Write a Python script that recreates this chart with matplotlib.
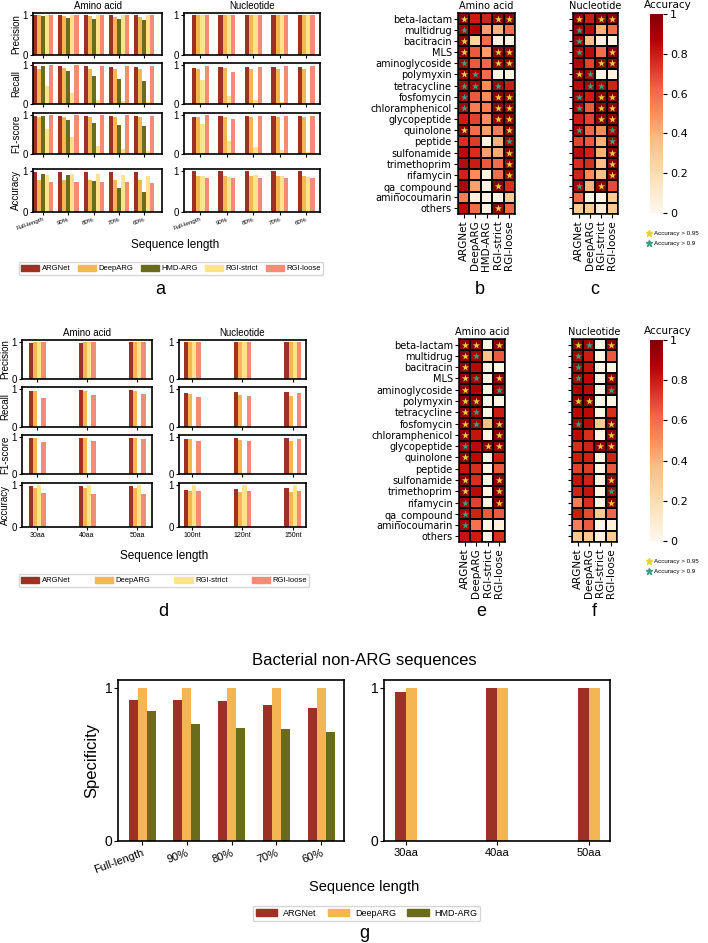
import numpy as np
import matplotlib.pyplot as plt
from matplotlib.patches import Patch
from matplotlib.lines import Line2D
from matplotlib.colors import Normalize
from matplotlib.cm import ScalarMappable

plt.rcParams['font.family'] = ['Liberation Sans', 'DejaVu Sans']

W, H = 708, 943

tools5 = ["ARGNet", "DeepARG", "HMD-ARG", "RGI-strict", "RGI-loose"]
tools4 = ["ARGNet", "DeepARG", "RGI-strict", "RGI-loose"]
tools3 = ["ARGNet", "DeepARG", "HMD-ARG"]
colors = {"ARGNet": "#9c3226", "DeepARG": "#f3b652", "HMD-ARG": "#6b6b1c",
          "RGI-strict": "#fde48c", "RGI-loose": "#f28c76"}
metrics = ["Precision", "Recall", "F1-score", "Accuracy"]

# panel a: full-length / truncated ARGs (rows follow tools5 / tools4)
a_groups = ["Full-length", "90%", "80%", "70%", "60%"]
a_aa_precision = [[0.99, 0.99, 0.99, 0.99, 0.99], [1, 0.98, 0.97, 0.96, 0.96],
                  [0.97, 0.93, 0.91, 0.89, 0.87], [1, 1, 1, 1, 1], [1, 1, 1, 1, 1]]
a_aa_recall = [[0.97, 0.97, 0.97, 0.96, 0.96], [0.89, 0.91, 0.90, 0.90, 0.90],
               [0.97, 0.84, 0.71, 0.64, 0.59], [0.47, 0.27, 0.11, 0.07, 0.04],
               [0.99, 0.99, 0.98, 0.98, 0.97]]
a_aa_f1 = [[0.98, 0.98, 0.98, 0.98, 0.97], [0.94, 0.95, 0.95, 0.95, 0.95],
           [0.97, 0.88, 0.80, 0.74, 0.71], [0.64, 0.43, 0.21, 0.13, 0.08],
           [0.99, 0.99, 0.99, 0.99, 0.98]]
a_aa_accuracy = [[0.98, 0.98, 0.98, 0.98, 0.98], [0.77, 0.77, 0.78, 0.77, 0.77],
                 [0.94, 0.91, 0.75, 0.58, 0.48], [0.91, 0.94, 0.93, 0.90, 0.88],
                 [0.73, 0.73, 0.73, 0.73, 0.72]]
a_nt_precision = [[0.99] * 5, [1] * 5, [1] * 5, [1] * 5]
a_nt_recall = [[0.92, 0.96, 0.95, 0.95, 0.94], [0.90, 0.91, 0.89, 0.90, 0.89],
               [0.62, 0.20, 0.10, 0.05, 0.03], [0.98, 0.83, 0.96, 0.97, 0.97]]
a_nt_f1 = [[0.95, 0.97, 0.97, 0.97, 0.97], [0.95, 0.95, 0.94, 0.94, 0.94],
           [0.76, 0.33, 0.19, 0.10, 0.06], [0.99, 0.90, 0.97, 0.98, 0.98]]
a_nt_accuracy = [[0.99] * 5, [0.87, 0.87, 0.88, 0.88, 0.87],
                 [0.89, 0.86, 0.90, 0.87, 0.85], [0.84, 0.82, 0.84, 0.84, 0.84]]

# panel d: short reads
d_aa_groups = ["30aa", "40aa", "50aa"]
d_nt_groups = ["100nt", "120nt", "150nt"]
d_aa_precision = [[0.98, 0.98, 0.99], [1, 1, 1], [1, 1, 1], [1, 1, 1]]
d_aa_recall = [[0.95, 0.97, 0.97], [0.95, 0.94, 0.94], [0, 0, 0], [0.77, 0.83, 0.87]]
d_aa_f1 = [[0.96, 0.98, 0.98], [0.97, 0.97, 0.97], [0, 0, 0], [0.87, 0.90, 0.93]]
d_aa_accuracy = [[0.98, 0.98, 0.98], [0.92, 0.92, 0.92], [1, 1, 1], [0.80, 0.79, 0.78]]
d_nt_precision = [[0.99, 0.99, 0.99], [1, 1, 1], [1, 1, 1], [1, 1, 1]]
d_nt_recall = [[0.90, 0.92, 0.93], [0.86, 0.83, 0.82], [0, 0, 0], [0.79, 0.82, 0.88]]
d_nt_f1 = [[0.95, 0.96, 0.96], [0.93, 0.91, 0.90], [0, 0, 0], [0.88, 0.90, 0.93]]
d_nt_accuracy = [[0.88, 0.90, 0.94], [0.86, 0.84, 0.83], [1, 1, 1], [0.85, 0.85, 0.85]]

# panel g: specificity on non-ARG sequences
g_left_groups = ["Full-length", "90%", "80%", "70%", "60%"]
g_left = [[0.92, 0.92, 0.91, 0.89, 0.87], [1, 1, 1, 1, 1], [0.85, 0.76, 0.74, 0.73, 0.71]]
g_right_groups = ["30aa", "40aa", "50aa"]
g_right = [[0.97, 0.995, 1.0], [1, 1, 1]]

# heatmaps (per-class accuracy)
classes = ["beta-lactam", "multidrug", "bacitracin", "MLS", "aminoglycoside", "polymyxin",
           "tetracycline", "fosfomycin", "chloramphenicol", "glycopeptide", "quinolone",
           "peptide", "sulfonamide", "trimethoprim", "rifamycin", "qa_compound",
           "aminocoumarin", "others"]
b_vals = [[0.97, 0.80, 0.78, 0.97, 0.97], [0.92, 0.87, 0.45, 0.40, 0.60],
          [0.97, 0.25, 0.60, 0.05, 0.02], [0.97, 0.65, 0.45, 0.97, 0.97],
          [0.92, 0.65, 0.62, 0.97, 0.97], [0.97, 0.92, 0.60, 0.03, 0.03],
          [0.92, 0.92, 0.50, 0.92, 0.80], [0.92, 0.65, 0.50, 0.97, 0.97],
          [0.92, 0.55, 0.55, 0.97, 0.97], [0.80, 0.70, 0.50, 0.97, 0.97],
          [0.97, 0.60, 0.45, 0.55, 0.97], [0.75, 0.72, 0.02, 0.40, 0.92],
          [0.85, 0.75, 0.45, 0.42, 0.97], [0.85, 0.80, 0.65, 0.60, 0.97],
          [0.78, 0.50, 0.03, 0.60, 0.97], [0.88, 0.45, 0.03, 0.97, 0.75],
          [0.55, 0.05, 0.03, 0.05, 0.30], [0.85, 0.60, 0.03, 0.97, 0.62]]
c_vals = [[0.97, 0.80, 0.97, 0.97], [0.92, 0.85, 0.40, 0.60],
          [0.92, 0.35, 0.03, 0.02], [0.92, 0.85, 0.60, 0.97],
          [0.88, 0.70, 0.97, 0.97], [0.97, 0.92, 0.03, 0.03],
          [0.85, 0.91, 0.92, 0.78], [0.92, 0.80, 0.97, 0.97],
          [0.92, 0.65, 0.97, 0.97], [0.80, 0.70, 0.97, 0.97],
          [0.92, 0.62, 0.50, 0.92], [0.70, 0.65, 0.40, 0.92],
          [0.85, 0.78, 0.40, 0.97], [0.75, 0.75, 0.35, 0.97],
          [0.78, 0.50, 0.35, 0.97], [0.92, 0.40, 0.97, 0.68],
          [0.62, 0.03, 0.02, 0.30], [0.30, 0.30, 0.10, 0.30]]
e_vals = [[0.97, 0.97, 0.02, 0.97], [0.97, 0.92, 0.35, 0.65],
          [0.97, 0.85, 0.02, 0.02], [0.97, 0.92, 0.02, 0.97],
          [0.97, 0.88, 0.02, 0.92], [0.97, 0.97, 0.02, 0.02],
          [0.97, 0.92, 0.02, 0.80], [0.97, 0.92, 0.35, 0.97],
          [0.97, 0.82, 0.02, 0.97], [0.92, 0.85, 0.97, 0.97],
          [0.97, 0.85, 0.02, 0.80], [0.82, 0.75, 0.02, 0.65],
          [0.97, 0.75, 0.02, 0.97], [0.97, 0.85, 0.02, 0.97],
          [0.92, 0.70, 0.02, 0.97], [0.92, 0.78, 0.65, 0.65],
          [0.92, 0.58, 0.02, 0.05], [0.82, 0.80, 0.02, 0.75]]
f_vals = [[0.97, 0.92, 0.02, 0.97], [0.92, 0.80, 0.02, 0.65],
          [0.92, 0.82, 0.02, 0.02], [0.92, 0.85, 0.02, 0.97],
          [0.88, 0.85, 0.02, 0.92], [0.97, 0.97, 0.02, 0.02],
          [0.85, 0.85, 0.02, 0.75], [0.92, 0.85, 0.30, 0.97],
          [0.85, 0.75, 0.02, 0.97], [0.75, 0.78, 0.97, 0.97],
          [0.80, 0.78, 0.02, 0.78], [0.70, 0.72, 0.02, 0.65],
          [0.82, 0.78, 0.02, 0.97], [0.78, 0.82, 0.02, 0.92],
          [0.55, 0.75, 0.02, 0.97], [0.80, 0.68, 0.30, 0.62],
          [0.55, 0.65, 0.02, 0.05], [0.30, 0.30, 0.05, 0.30]]


def rect(l, t, r, b):
    return [l / W, 1 - b / H, (r - l) / W, (b - t) / H]


def fx(x):
    return x / W


def fy(y):
    return 1 - y / H


fig = plt.figure(figsize=(W / 100, H / 100), dpi=100)


def bars(ax, vals, tools, width, xlim, ylim=1.05):
    n = len(tools)
    x = np.arange(len(vals[0]))
    for i, t in enumerate(tools):
        ax.bar(x + (i - (n - 1) / 2) * width, vals[i], width, color=colors[t], label=t)
    ax.set_xlim(*xlim)
    ax.set_ylim(0, ylim)
    ax.set_yticks([0, 1])
    ax.set_yticklabels(["0", "1"])
    ax.set_xticks(x)
    for s in ax.spines.values():
        s.set_linewidth(1.2)
    return x


def bar_grid(cols, rows, data, tools_list, width_list, xlims, groups_list, titles,
             tick_kw, tick_fs):
    for c, (l, r) in enumerate(cols):
        for k, (t, b) in enumerate(rows):
            ax = fig.add_axes(rect(l, t, r, b))
            bars(ax, data[c][k], tools_list[c], width_list[c], xlims[c])
            ax.tick_params(labelsize=7, length=2.5, width=0.8, pad=1)
            if k == 0:
                ax.set_title(titles[c], fontsize=7, pad=3)
            if c == 0:
                ax.set_ylabel(metrics[k], fontsize=7, labelpad=1)
            if k == len(rows) - 1:
                ax.set_xticklabels(groups_list[c], fontsize=tick_fs, **tick_kw)
            else:
                ax.set_xticklabels([])


# ---- panel a ----
bar_grid([(33, 162), (184, 320)], [(13, 55), (63, 104), (113, 154), (169, 212)],
         [[a_aa_precision, a_aa_recall, a_aa_f1, a_aa_accuracy],
          [a_nt_precision, a_nt_recall, a_nt_f1, a_nt_accuracy]],
         [tools5, tools4], [0.16, 0.16], [(-0.4, 4.7), (-0.62, 4.52)],
         [a_groups, a_groups], ["Amino acid", "Nucleotide"],
         dict(rotation=20, ha="right", rotation_mode="anchor"), 4.5)
fig.text(fx(175), fy(245), "Sequence length", fontsize=8.5, ha="center", va="center")
fig.legend([Patch(color=colors[t]) for t in tools5], tools5, loc="center",
           bbox_to_anchor=(fx(15), fy(275), fx(312), 13 / H), mode="expand", ncol=5,
           fontsize=5.5, handlelength=2.4, handleheight=0.9, borderpad=0.3,
           handletextpad=0.3, columnspacing=0.6)
fig.text(fx(160), fy(290), "a", fontsize=13, ha="center", va="center")

# ---- panel d ----
bar_grid([(22, 152), (179, 306)], [(340, 379), (387, 427), (435, 474), (483, 527)],
         [[d_aa_precision, d_aa_recall, d_aa_f1, d_aa_accuracy],
          [d_nt_precision, d_nt_recall, d_nt_f1, d_nt_accuracy]],
         [tools4, tools4], [0.085, 0.085], [(-0.3, 2.3), (-0.26, 2.26)],
         [d_aa_groups, d_nt_groups], ["Amino acid", "Nucleotide"], dict(), 5)
fig.text(fx(164), fy(556), "Sequence length", fontsize=8.5, ha="center", va="center")
fig.legend([Patch(color=colors[t]) for t in tools4], tools4, loc="center",
           bbox_to_anchor=(fx(15), fy(587), fx(298), 13 / H), mode="expand", ncol=4,
           fontsize=5.5, handlelength=2.4, handleheight=0.9, borderpad=0.3,
           handletextpad=0.3, columnspacing=0.6)
fig.text(fx(163), fy(612), "d", fontsize=13, ha="center", va="center")


# ---- heatmaps ----
def heat(ax, vals, cols, show_rows):
    v = np.array(vals)
    ax.pcolormesh(v, cmap="OrRd", vmin=0, vmax=1, edgecolors="black", linewidth=1.1)
    ax.set_xlim(0, v.shape[1])
    ax.set_ylim(v.shape[0], 0)
    yy, xx = np.where(v > 0.95)
    ax.scatter(xx + 0.5, yy + 0.5, marker="*", s=30, color="#e9cf3a", linewidths=0, zorder=3)
    yy, xx = np.where((v > 0.9) & (v <= 0.95))
    ax.scatter(xx + 0.5, yy + 0.5, marker="*", s=30, color="#3c9f7c", linewidths=0, zorder=3)
    ax.set_xticks(np.arange(v.shape[1]) + 0.5)
    ax.set_xticklabels(cols, rotation=90, fontsize=7.5, family="DejaVu Sans")
    ax.set_yticks(np.arange(v.shape[0]) + 0.5)
    ax.set_yticklabels(classes if show_rows else [], fontsize=7, family="DejaVu Sans")
    ax.tick_params(length=3, width=0.8, pad=1.5)
    for s in ax.spines.values():
        s.set_linewidth(1.1)


def heat_block(top, bottom, left_vals, left_cols, right_vals, right_cols, lx, rx, lab_y,
               labels):
    ax1 = fig.add_axes(rect(lx, top, lx + 11.4 * len(left_cols), bottom))
    heat(ax1, left_vals, left_cols, True)
    ax1.set_title("Amino acid", fontsize=7, pad=3, family="DejaVu Sans")
    ax2 = fig.add_axes(rect(rx, top, rx + 11.2 * len(right_cols), bottom))
    heat(ax2, right_vals, right_cols, False)
    ax2.set_title("Nucleotide", fontsize=7, pad=3, family="DejaVu Sans")
    cax = fig.add_axes(rect(650, top + 1, 663, bottom - 1))
    cb = fig.colorbar(ScalarMappable(norm=Normalize(0, 1), cmap="OrRd"), cax=cax)
    cb.set_ticks([0, 0.2, 0.4, 0.6, 0.8, 1])
    cb.set_ticklabels(["0", "0.2", "0.4", "0.6", "0.8", "1"])
    cb.outline.set_visible(False)
    cax.tick_params(labelsize=8, length=3, width=0.8, pad=2)
    for tl in cax.get_yticklabels():
        tl.set_family("DejaVu Sans")
    fig.text(fx(668), fy(top - 8), "Accuracy", fontsize=7.5, ha="center", va="center",
             family="DejaVu Sans")
    fig.legend([Line2D([], [], marker="*", ls="none", color="#e9cf3a", markersize=5),
                Line2D([], [], marker="*", ls="none", color="#3c9f7c", markersize=5)],
               ["Accuracy > 0.95", "Accuracy > 0.9"], loc="upper left",
               bbox_to_anchor=(fx(643), fy(bottom + 14)), frameon=False, fontsize=4.5,
               handlelength=1, handletextpad=0.3, labelspacing=0.7, borderpad=0)
    fig.text(fx(lx + 22), fy(lab_y), labels[0], fontsize=13, ha="center", va="center")
    fig.text(fx(rx + 22), fy(lab_y), labels[1], fontsize=13, ha="center", va="center")


heat_block(13, 214, b_vals, tools5, c_vals, tools4, 458, 573, 290, ["b", "c"])
heat_block(339, 542, e_vals, tools4, f_vals, tools4, 459, 572, 612, ["e", "f"])

# ---- panel g ----
axl = fig.add_axes(rect(118, 680, 344, 841))
bars(axl, g_left, tools3, 0.2, (-0.54, 4.51))
axl.set_xticklabels(g_left_groups, fontsize=8, rotation=20, ha="right",
                    rotation_mode="anchor")
axl.set_ylabel("Specificity", fontsize=12, labelpad=4)
axl.tick_params(axis="y", labelsize=10, length=3, pad=1)
axl.tick_params(axis="x", length=3, pad=2)
axr = fig.add_axes(rect(384, 680, 610, 841))
bars(axr, g_right, ["ARGNet", "DeepARG"], 0.12, (-0.24, 2.23))
axr.set_xticklabels(g_right_groups, fontsize=8)
axr.tick_params(axis="y", labelsize=10, length=3, pad=1)
axr.tick_params(axis="x", length=3, pad=2)
fig.text(fx(364), fy(660), "Bacterial non-ARG sequences", fontsize=12, ha="center",
         va="center")
fig.text(fx(364), fy(887), "Sequence length", fontsize=10.5, ha="center", va="center")
fig.legend([Patch(color=colors[t]) for t in tools3], tools3, loc="center",
           bbox_to_anchor=(fx(248), fy(921), fx(237), 15 / H), mode="expand", ncol=3,
           fontsize=6.5, handlelength=2.4, handleheight=0.8, borderpad=0.35,
           handletextpad=0.6, columnspacing=1.0)
fig.text(fx(364), fy(934), "g", fontsize=13, ha="center", va="center")

fig.savefig("out.png", dpi=100)
